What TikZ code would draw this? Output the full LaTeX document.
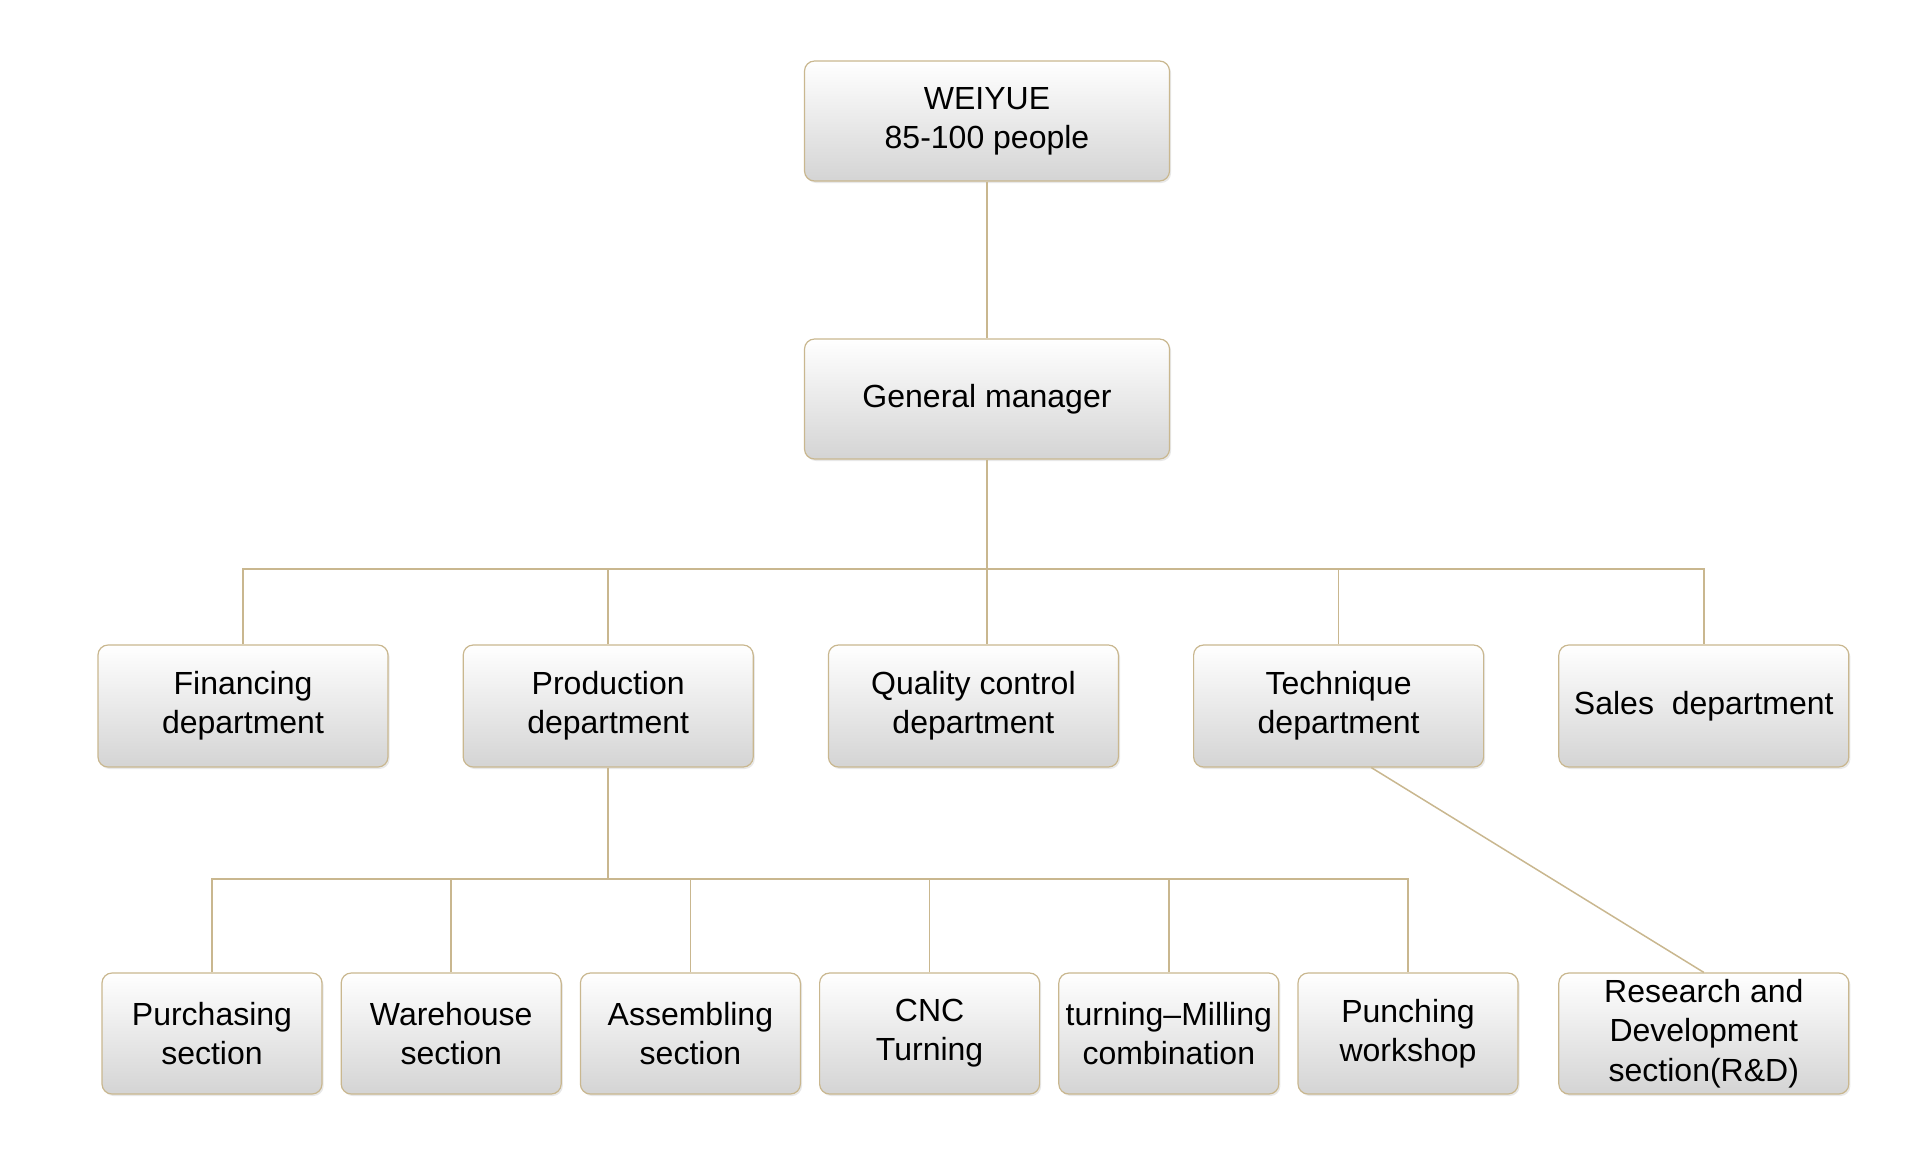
\documentclass[tikz,border=0pt]{standalone}
\usepackage{fontspec}
\setmainfont{Liberation Sans}
\usepackage{xcolor}
\usepackage{tikz}
\usetikzlibrary{positioning, shadows}

\definecolor{linetan}{HTML}{C9B78F}
\definecolor{boxgrey}{HTML}{D4D4D4}

\begin{document}
\begin{tikzpicture}[
    x=0.5pt, y=-0.5pt,
    box/.style={rectangle, draw=linetan, line width=0.6pt, top color=white, bottom color=boxgrey,
        rounded corners=5pt, align=center, inner sep=2pt,
        font=\fontsize{16}{19.6}\selectfont,
        drop shadow={opacity=0.18, shadow xshift=0.8pt, shadow yshift=-1pt}},
    topbox/.style={box, minimum width=182.5pt, minimum height=60pt},
    dept/.style={box, minimum width=145pt, minimum height=61pt},
    sect/.style={box, minimum width=110pt, minimum height=60.5pt},
    link/.style={draw=linetan, line width=0.75pt}
]
\useasboundingbox (0,0) rectangle (1920,1148);

% Top: company and manager
\node [topbox] (co) at (987,121) {WEIYUE\\85-100 people};
\node [topbox] (gm) at (987,399) {General manager};

% Row 2: departments
\node [dept] (fin) at (243,706) {Financing\\department};
\node [dept, right=37pt of fin] (prod) {Production\\department};
\node [dept, right=37pt of prod] (qc) {Quality control\\department};
\node [dept, right=37pt of qc] (tech) {Technique\\department};
\node [dept, right=37pt of tech] (sales) {Sales\ \ department};

% Row 3: sections
\node [sect] (pur) at (212,1033.5) {Purchasing\\section};
\node [sect, right=9pt of pur] (ware) {Warehouse\\section};
\node [sect, right=9pt of ware] (asm) {Assembling\\section};
\node [sect, right=9pt of asm] (cnc) {CNC\\Turning};
\node [sect, right=9pt of cnc] (turn) {turning--Milling\\combination};
\node [sect, right=9pt of turn] (punch) {Punching\\workshop};
\node [dept, minimum height=60.5pt] (rd) at (sales |- pur) {Research and\\Development\\section(R\&D)};

\coordinate (bus1) at (987,569);
\coordinate (bus2) at (609,879);

\draw [link] (co) -- (gm);
\draw [link] (gm) -- (gm |- qc.north);
\draw [link] (fin.north) |- (bus1) -| (sales.north);
\foreach \d in {prod, tech}
    \draw [link] (\d.north) -- (\d.north |- bus1);

\draw [link] (prod.south) -- (prod.south |- bus2);
\draw [link] (pur.north) |- (bus2) -| (punch.north);
\foreach \s in {ware, asm, cnc, turn}
    \draw [link] (\s.north) -- (\s.north |- bus2);
\draw [link] (tech.-62) -- (rd.north);
\end{tikzpicture}
\end{document}
